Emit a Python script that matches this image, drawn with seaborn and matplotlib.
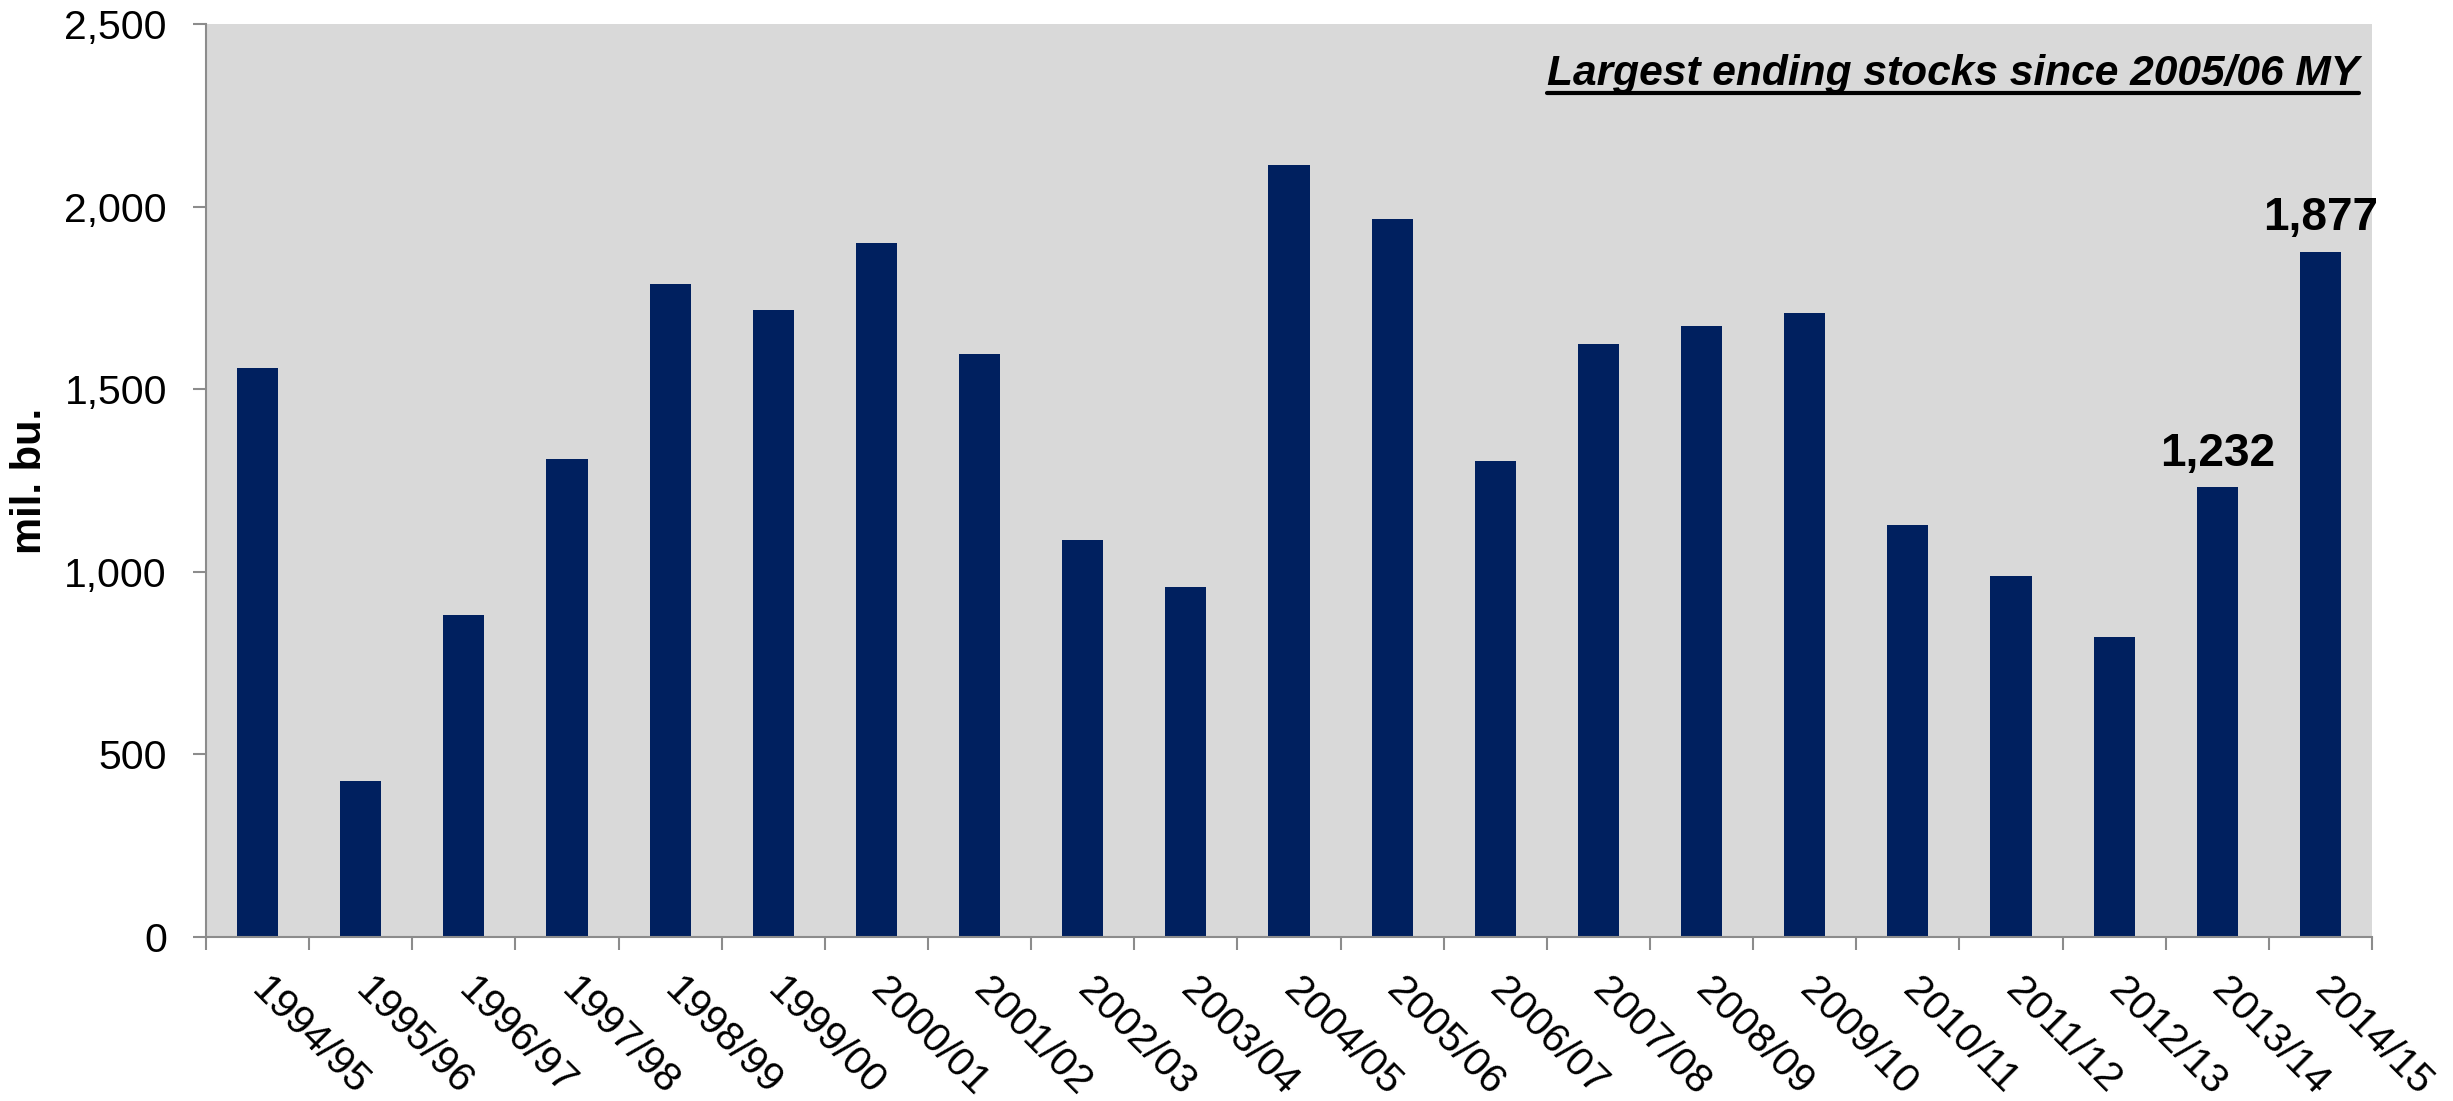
import matplotlib
matplotlib.use("Agg")
import matplotlib.pyplot as plt
import matplotlib.transforms as mtransforms
from matplotlib.lines import Line2D
from matplotlib.ticker import FuncFormatter, FixedLocator
import seaborn as sns
import pandas as pd
import numpy as np

years = ["1994/95", "1995/96", "1996/97", "1997/98", "1998/99", "1999/00",
         "2000/01", "2001/02", "2002/03", "2003/04", "2004/05", "2005/06",
         "2006/07", "2007/08", "2008/09", "2009/10", "2010/11", "2011/12",
         "2012/13", "2013/14", "2014/15"]
ending_stocks = [1558, 426, 883, 1308, 1787, 1718, 1899, 1596, 1087, 958, 2114,
                 1967, 1304, 1624, 1673, 1708, 1128, 989, 821, 1232, 1877]
labeled_years = ["2013/14", "2014/15"]
y_ticks = [0, 500, 1000, 1500, 2000, 2500]
title_text = "Largest ending stocks since 2005/06 MY"
y_label = "mil. bu."

sns.set_style("white")
plt.rcParams["font.family"] = ["Liberation Sans", "DejaVu Sans"]
plt.rcParams["text.color"] = "black"
plt.rcParams["axes.labelcolor"] = "black"

BAR = "#00205F"
GRAY = "#8c8c8c"
DPI = 100
fig = plt.figure(figsize=(24.53, 11.01), dpi=DPI)
W, H = 2453, 1101
ax = fig.add_axes([206 / W, 1 - 937 / H, (2372 - 206) / W, (937 - 24) / H])
ax.set_facecolor("#d9d9d9")

df = pd.DataFrame({"year": years, "stocks": ending_stocks})
sns.barplot(data=df, x="year", y="stocks", color=BAR, saturation=1,
            width=0.4, ax=ax, edgecolor="none", linewidth=0)

ax.set_xlim(-0.5, len(years) - 0.5)
ax.set_ylim(0, 2500)
ax.yaxis.set_major_locator(FixedLocator(y_ticks))
ax.yaxis.set_major_formatter(FuncFormatter(lambda v, p: f"{int(v):,}"))

for s in ["top", "right"]:
    ax.spines[s].set_visible(False)
for s in ["left", "bottom"]:
    ax.spines[s].set_color(GRAY)
    ax.spines[s].set_linewidth(1.5)

ax.tick_params(axis="y", which="major", direction="out", length=9.4, width=1.5,
               color=GRAY, labelcolor="black", pad=18.7, labelsize=29.5, left=True)
ax.set_xticks(range(len(years)))
ax.set_xticklabels(years)
ax.set_xticks(np.arange(len(years) + 1) - 0.5, minor=True)
ax.tick_params(axis="x", which="major", length=0, pad=24.5, labelsize=29.5,
               labelcolor="black", bottom=True)
ax.tick_params(axis="x", which="minor", direction="out", length=9.1, width=1.5,
               color=GRAY, bottom=True)
offset = mtransforms.ScaledTranslation(14 / DPI, 0, fig.dpi_scale_trans)
for lab in ax.get_xticklabels():
    lab.set_rotation(-45)
    lab.set_ha("left")
    lab.set_rotation_mode("anchor")
    lab.set_transform(lab.get_transform() + offset)

ax.set_xlabel("")
ax.set_ylabel(y_label, fontsize=30, fontweight="bold", color="black")
ax.yaxis.label.set_va("center")
ax.yaxis.label.set_rotation_mode("anchor")
ax.yaxis.set_label_coords((30 - 206) / 2166, 0.5)

for yr in labeled_years:
    i = years.index(yr)
    v = ending_stocks[i]
    ax.annotate(f"{v:,}", xy=(i, v), xytext=(0, 15.5), textcoords="offset points",
                ha="center", va="baseline", fontsize=33, fontweight="bold",
                color="black")

t = ax.text(0.994, 0.9332, title_text, transform=ax.transAxes, ha="right",
            va="baseline", fontsize=30.6, fontweight="bold", fontstyle="italic",
            color="black")

fig.canvas.draw()
bb = t.get_window_extent(fig.canvas.get_renderer())
ly = H - 93
fig.add_artist(Line2D([bb.x0 / W, bb.x1 / W], [ly / H, ly / H],
                      transform=fig.transFigure, color="black", linewidth=3))

fig.savefig("out.png", dpi=DPI)
